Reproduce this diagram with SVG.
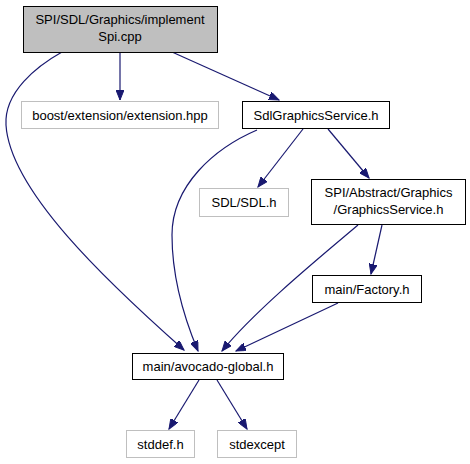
<svg xmlns="http://www.w3.org/2000/svg" width="470" height="464" viewBox="0 0 470 464">
<style>
.n rect{fill:#fff;stroke:#000;stroke-width:1}
.n.g rect{stroke:#bfbfbf}
.n.cur rect{fill:#bfbfbf}
text{font-family:"Liberation Sans",Arial,sans-serif;font-size:13px;fill:#000;text-anchor:middle}
.e path{fill:none;stroke:#191970;stroke-width:1.2;marker-end:url(#a)}
</style>
<defs>
<marker id="a" markerUnits="userSpaceOnUse" markerWidth="11" markerHeight="8" refX="10" refY="4" orient="auto">
<path d="M0,0 L10,4 L0,8 z" fill="#191970" stroke="#191970" stroke-width="1"/>
</marker>
</defs>
<rect width="470" height="464" fill="#fff"/>
<g id="edges" class="e">
<path d="M62,52 C37,66 4,92 6,125 C10,190 105,280 184,350"/>
<path d="M120,52 L120,100"/>
<path d="M172,52 L279,100"/>
<path d="M257,130 C215,148 172,185 172,235 C172,280 185,320 198,351"/>
<path d="M303,129 L258,187"/>
<path d="M328,129 L369,178"/>
<path d="M358,225 C325,253 255,310 222,351"/>
<path d="M382,225 L371,274"/>
<path d="M338,303 L236,351"/>
<path d="M199,380 L169,429"/>
<path d="M217,380 L247,429"/>
</g>
<g id="node_implementSpi" class="n cur"><rect x="23.5" y="6.5" width="194" height="46"/><text x="120" y="23.5">SPI/SDL/Graphics/implement</text><text x="120" y="40.5">Spi.cpp</text></g>
<g id="node_boost" class="n g"><rect x="21.5" y="101.5" width="197" height="27"/><text x="120" y="119.5">boost/extension/extension.hpp</text></g>
<g id="node_SdlGraphicsService" class="n"><rect x="242.5" y="101.5" width="147" height="27"/><text x="316" y="120">SdlGraphicsService.h</text></g>
<g id="node_SDL" class="n g"><rect x="199.5" y="188.5" width="89" height="28"/><text x="244" y="207">SDL/SDL.h</text></g>
<g id="node_GraphicsService" class="n"><rect x="311.5" y="179.5" width="154" height="45"/><text x="388.5" y="197">SPI/Abstract/Graphics</text><text x="388.5" y="214">/GraphicsService.h</text></g>
<g id="node_Factory" class="n"><rect x="312.5" y="275.5" width="109" height="27"/><text x="367" y="293.5">main/Factory.h</text></g>
<g id="node_avocado" class="n"><rect x="132.5" y="353.5" width="151" height="26"/><text x="208" y="371">main/avocado-global.h</text></g>
<g id="node_stddef" class="n g"><rect x="126.5" y="430.5" width="68" height="27"/><text x="160.5" y="448.5">stddef.h</text></g>
<g id="node_stdexcept" class="n g"><rect x="217.5" y="430.5" width="79" height="27"/><text x="257" y="448.5">stdexcept</text></g>
</svg>
